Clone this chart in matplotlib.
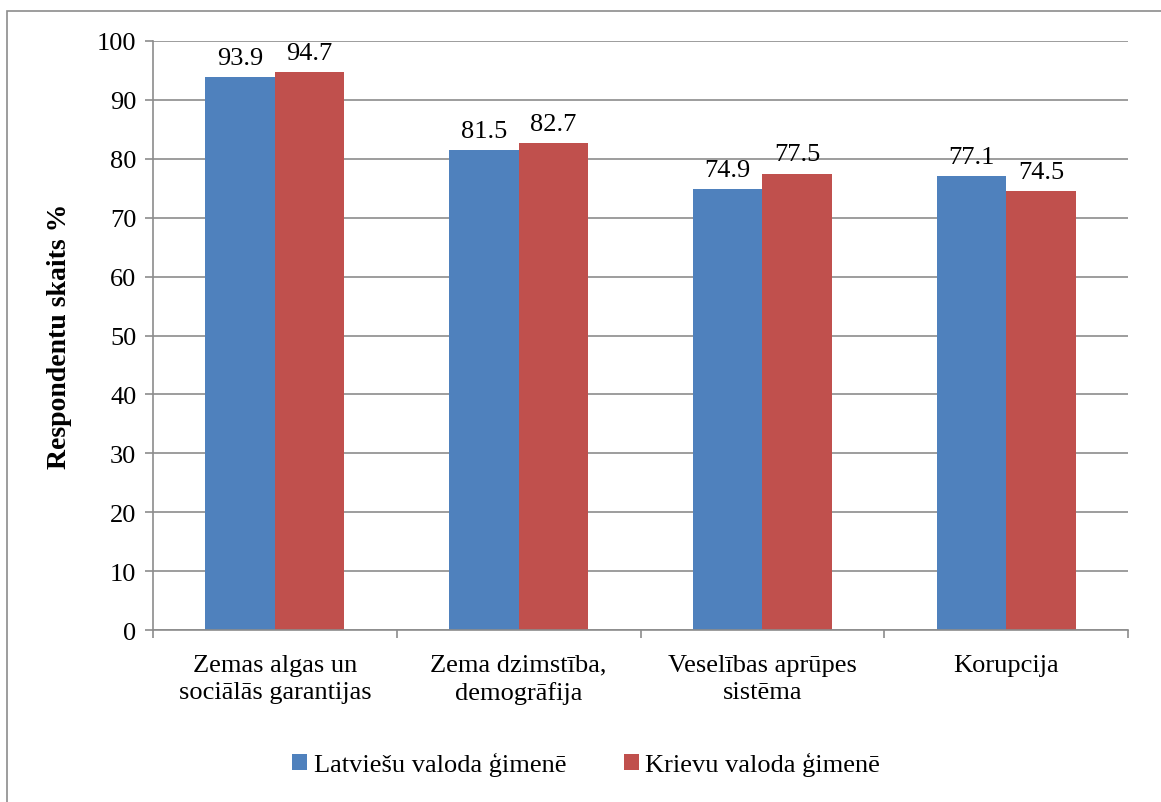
import numpy as np
import matplotlib.pyplot as plt
from matplotlib.patches import Rectangle

# Dati
categories = ['Zemas algas un\nsociālās garantijas', 'Zema dzimstība,\ndemogrāfija',
              'Veselības aprūpes\nsistēma', 'Korupcija']
latv = [93.9, 81.5, 74.9, 77.1]
kriev = [94.7, 82.7, 77.5, 74.5]
series_names = ['Latviešu valoda ģimenē', 'Krievu valoda ģimenē']

plt.rcParams['font.family'] = ['Liberation Serif', 'DejaVu Serif']
plt.rcParams['font.size'] = 19

fig = plt.figure(figsize=(11.61, 8.03), dpi=100)
ax = fig.add_axes([153/1161, 1 - 631/803, (1128-153)/1161, (631-42)/803])

# Cornice esterna
fig.patches.append(Rectangle((7/1161, -0.1), 1.2, 1 - 12/803 + 0.1, transform=fig.transFigure,
                             fill=False, edgecolor='#8c8c8c', linewidth=1.2))

x = np.arange(len(categories))
w = 0.285
b1 = ax.bar(x - w/2, latv, w, color='#4F81BD', label=series_names[0])
b2 = ax.bar(x + w/2, kriev, w, color='#C0504D', label=series_names[1])

for bars in (b1, b2):
    for r in bars:
        ax.annotate(f'{r.get_height():.1f}', (r.get_x() + r.get_width()/2, r.get_height()),
                    xytext=(0, 6), textcoords='offset points', ha='center', va='bottom', fontsize=19)

ax.set_xlim(-0.5, len(categories) - 0.5)
ax.set_ylim(0, 100)
ax.set_yticks(range(0, 101, 10))
ax.set_xticks(x)
ax.set_xticklabels(categories, fontsize=19, linespacing=1.3)
ax.set_xticks(np.arange(-0.5, len(categories), 1), minor=True)
ax.tick_params(axis='x', which='major', length=0, pad=17)
ax.tick_params(axis='x', which='minor', length=6, color='#8c8c8c', width=1.2)
ax.tick_params(axis='y', length=6, color='#8c8c8c', width=1.2, labelsize=19, pad=6)

ax.grid(axis='y', color='#8c8c8c', linewidth=1.2)
ax.set_axisbelow(True)
for s in ['top', 'right']:
    ax.spines[s].set_visible(False)
for s in ['left', 'bottom']:
    ax.spines[s].set_color('#8c8c8c')
    ax.spines[s].set_linewidth(1.2)

ax.set_ylabel('Respondentu skaits %', fontweight='bold', fontsize=20, labelpad=18)

fig.legend(loc='center', bbox_to_anchor=(0.505, 1 - 765/803), ncol=2, frameon=False,
           fontsize=19, handlelength=0.55, handleheight=0.55, handletextpad=0.25, columnspacing=2.2)

plt.savefig('out.png', dpi=100)
